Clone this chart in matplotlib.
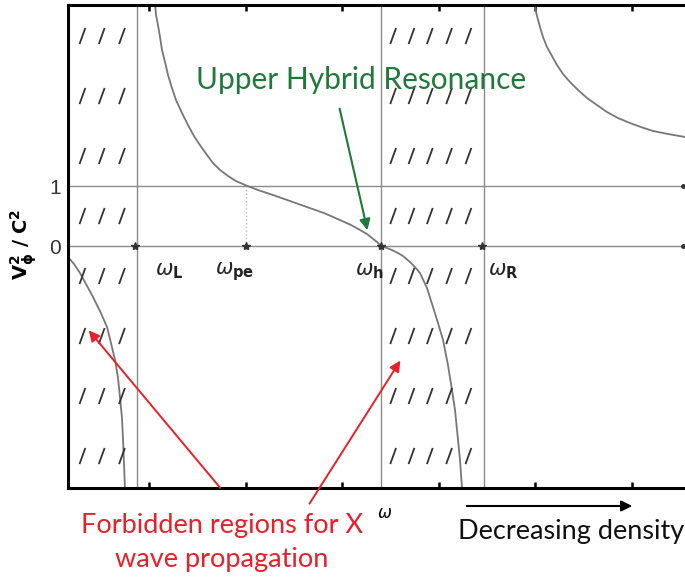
import numpy as np
import matplotlib.pyplot as plt

plt.rcParams['mathtext.fontset'] = 'dejavusans'

# characteristic frequencies on the omega axis
w_L, w_pe, w_h, w_R = 0.88, 2.0, 3.404, 4.472
star_w = [0.855, 2.0, 3.404, 4.455]

# X-wave branches, v_phi^2 / c^2 against omega
w1 = [0.161, 0.223, 0.285, 0.347, 0.420, 0.492, 0.565, 0.606, 0.648, 0.679,
      0.699, 0.720, 0.731, 0.741, 0.751]
v1 = [-0.183, -0.30, -0.45, -0.633, -0.85, -1.083, -1.35, -1.617, -1.90, -2.20,
      -2.517, -2.867, -3.233, -3.633, -4.05]

w2 = [1.062, 1.073, 1.093, 1.114, 1.135, 1.166, 1.197, 1.238, 1.280, 1.342,
      1.404, 1.466, 1.528, 1.601, 1.663, 1.736, 1.819, 1.902, 1.995, 2.130,
      2.285, 2.461, 2.637, 2.813, 2.979, 3.093, 3.187, 3.259, 3.311, 3.363, 3.404]
v2 = [4.05, 3.85, 3.683, 3.483, 3.267, 3.067, 2.85, 2.633, 2.433, 2.217,
      2.017, 1.833, 1.683, 1.517, 1.383, 1.267, 1.167, 1.083, 1.017, 0.933,
      0.85, 0.75, 0.65, 0.55, 0.433, 0.35, 0.267, 0.20, 0.133, 0.067, 0.0]

w3 = [3.404, 3.466, 3.518, 3.580, 3.632, 3.705, 3.756, 3.808, 3.881, 3.943,
      3.995, 4.047, 4.098, 4.140, 4.171, 4.192, 4.223, 4.244]
v3 = [0.0, -0.033, -0.067, -0.117, -0.167, -0.267, -0.35, -0.45, -0.70, -1.017,
      -1.283, -1.567, -1.983, -2.40, -2.733, -3.067, -3.567, -4.05]

w4 = [4.990, 5.021, 5.052, 5.083, 5.124, 5.176, 5.228, 5.290, 5.363, 5.446,
      5.539, 5.642, 5.746, 5.860, 5.984, 6.098, 6.223, 6.378, 6.554, 7.0]
v4 = [4.05, 3.833, 3.65, 3.483, 3.317, 3.167, 3.017, 2.867, 2.733, 2.60,
      2.467, 2.35, 2.233, 2.133, 2.05, 1.983, 1.917, 1.867, 1.817, 1.74]

# hatch marks in the forbidden bands
hatch_left = [0.31, 0.51, 0.72]
hatch_mid = [3.53, 3.72, 3.91, 4.11, 4.31]
hatch_rows = [-3.5, -2.5, -1.5, -0.5, 0.5, 1.5, 2.5, 3.5]

W, H = 685, 577
def fig_xy(px, py):
    return (px / W, 1 - py / H)

fig = plt.figure(figsize=(W / 100, H / 100), dpi=100)
ax = fig.add_axes([68 / W, 89 / H, 660 / W, 483 / H])
ax.set_xlim(0.1606, 7.0)
ax.set_ylim(-4.033, 4.017)

grey = '#8a8a8a'
ax.axhline(0, color=grey, lw=1.0, zorder=1)
ax.axhline(1, color=grey, lw=1.0, zorder=1)
for w in (w_L, w_h, w_R):
    ax.axvline(w, color=grey, lw=1.0, zorder=1)
ax.plot([w_pe, w_pe], [0, 1], color='#bbbbbb', lw=1.0, ls=':', zorder=1)

for w, v in ((w1, v1), (w2, v2), (w3, v3), (w4, v4)):
    ax.plot(w, v, color='#777777', lw=1.3, zorder=2)

ax.plot(star_w, [0] * len(star_w), ls='none', marker='*', ms=6, color='#333333', zorder=3)
ax.plot([6.53, 6.53], [0, 1], ls='none', marker='o', ms=2.5, color='#333333', zorder=3)

dx, dy = 0.027, 0.12
for cols in (hatch_left, hatch_mid):
    for x in cols:
        for y in hatch_rows:
            ax.plot([x - dx, x + dx], [y - dy, y + dy], color='#333333', lw=1.3, zorder=2)

for name, x in ((r'$\omega_{\mathbf{L}}$', 1.06), (r'$\omega_{\mathbf{pe}}$', 1.68),
                (r'$\omega_{\mathbf{h}}$', 3.13), (r'$\omega_{\mathbf{R}}$', 4.51)):
    ax.text(x, -0.42, name, fontsize=15, ha='left', va='center', color='#222222')

ax.set_xticks([1, 2, 3, 4, 5, 6])
ax.set_xticklabels([])
ax.set_yticks([0, 1])
ax.set_yticklabels(['0', '1'], fontsize=15, family='Liberation Sans', color='#333333')
ax.tick_params(axis='x', direction='in', top=True, length=4, width=1.8)
ax.tick_params(axis='y', length=0, pad=5)
for s in ('left', 'top', 'bottom'):
    ax.spines[s].set_linewidth(2.2)
ax.spines['right'].set_visible(False)

fig.text(*fig_xy(24, 244), r'$\mathbf{V_{\phi}^2\ /\ C^2}$', rotation=90,
         fontsize=14, ha='center', va='center')
fig.text(*fig_xy(385, 513), r'$\omega$', fontsize=12, ha='center', va='center')

green = '#1f7a3a'
fig.text(*fig_xy(361, 80), 'Upper Hybrid Resonance', family='Lato', fontsize=21.5,
         color=green, ha='center', va='center')
ax.annotate('', xy=(3.27, 0.22), xycoords='data', xytext=fig_xy(339, 106),
            textcoords='figure fraction',
            arrowprops=dict(arrowstyle='-|>', color=green, lw=1.5, mutation_scale=16))

red = '#e8202a'
for tip, tail in (((0.357, -1.37), (222, 490)), ((3.62, -1.87), (308, 506))):
    ax.annotate('', xy=tip, xycoords='data', xytext=fig_xy(*tail),
                textcoords='figure fraction', annotation_clip=False,
                arrowprops=dict(arrowstyle='-|>', color=red, lw=1.4, mutation_scale=16))
fig.text(*fig_xy(222, 526), 'Forbidden regions for X', family='Lato', fontsize=19.5,
         color=red, ha='center', va='center')
fig.text(*fig_xy(222, 560), 'wave propagation', family='Lato', fontsize=19.5,
         color=red, ha='center', va='center')

fig.add_artist(plt.matplotlib.patches.FancyArrowPatch(
    fig_xy(464, 506), fig_xy(635, 506), transform=fig.transFigure,
    arrowstyle='-|>', mutation_scale=16, lw=1.5, color='black'))
fig.text(*fig_xy(458, 531), 'Decreasing density', family='Lato', fontsize=19.5,
         color='#111111', ha='left', va='center')

fig.savefig('out.png', dpi=100)
